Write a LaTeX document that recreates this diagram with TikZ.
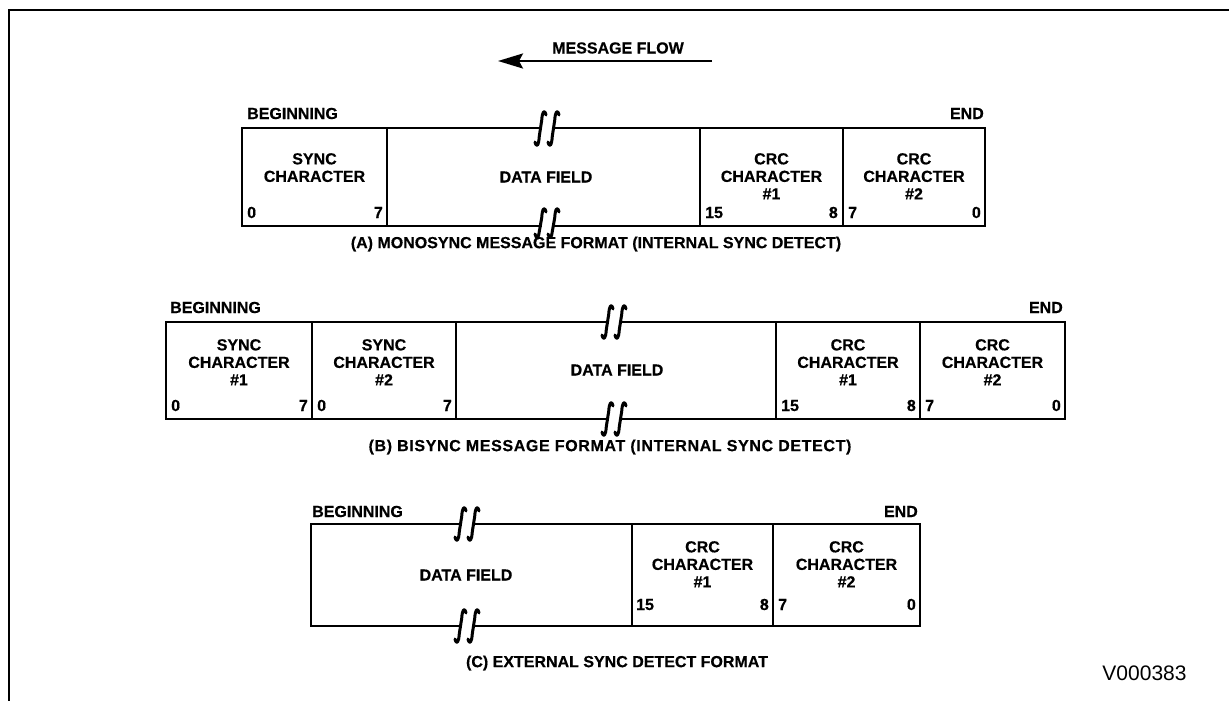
\documentclass[tikz,border=0pt]{standalone}
\usepackage{fontspec}
\setmainfont{Liberation Sans}[BoldFeatures={FakeBold=0.5}]
\usetikzlibrary{arrows.meta}
\tikzset{
  lbl/.style={font=\bfseries\fontsize{16}{17.5}\selectfont, inner sep=0pt, align=center, anchor=north},
  bit/.style={font=\bfseries\fontsize{16}{17}\selectfont, inner sep=0pt},
  captxt/.style={font=\bfseries\fontsize{16}{17}\selectfont, inner sep=0pt},
  edge/.style={line width=2.3pt},
  frame/.style={line width=2.8pt},
  brkstroke/.style={line width=3pt, line cap=round, line join=round},
}
% #1 x, #2 y, #3 extent above, #4 extent below
\newcommand\brkmark[4]{%
  \fill[white] (#1-5,#2-2.5) rectangle (#1+5,#2+2.5);
  \foreach \s in {-6.5,6.5}{%
    \draw[brkstroke]
      (#1+\s-5.5,#2+#4-4) .. controls (#1+\s-4,#2+#4+2) and (#1+\s-1.8,#2+#4) .. (#1+\s-1.2,#2+#4*0.45)
      -- (#1+\s+1.2,#2-#3*0.45)
      .. controls (#1+\s+1.8,#2-#3) and (#1+\s+4,#2-#3-2) .. (#1+\s+5.5,#2-#3+4);
  }%
}
\begin{document}
\begin{tikzpicture}[x=1pt,y=-1pt]
\useasboundingbox (0,0) rectangle (1229,701);
% frame
\draw[frame] (9,701) -- (9,10) -- (1229,10);

% message flow
\node[captxt] (mf) at (618,48) {MESSAGE FLOW};
\coordinate (mfs) at (712,61);
\coordinate (mfe) at (498,61);
\draw[line width=2.4pt, -{Stealth[length=25pt,width=15pt,inset=4pt]}] (mfs) -- (mfe);

% ---------- (A) ----------
\draw[edge] (242,128) rectangle (985,226);
\foreach \x in {387,700,843} \draw[edge] (\x,128) -- (\x,226);
\brkmark{547}{128}{17}{18}
\brkmark{547}{226}{18}{12}
\node[captxt, anchor=base west] (abeg) at (247,119) {BEGINNING};
\node[captxt, anchor=base east] (aend) at (984,119) {END};
\node[lbl] (async) at (314.5,153) {SYNC\\CHARACTER};
\node[lbl, anchor=center] (adata) at (546,177) {DATA FIELD};
\node[lbl] (acrc1) at (771.5,153) {CRC\\CHARACTER\\\#1};
\node[lbl] (acrc2) at (914,153) {CRC\\CHARACTER\\\#2};
\node[bit, anchor=base west] at (247,218) {0};
\node[bit, anchor=base east] at (383,218) {7};
\node[bit, anchor=base west] at (705,218) {15};
\node[bit, anchor=base east] at (838,218) {8};
\node[bit, anchor=base west] at (848,218) {7};
\node[bit, anchor=base east] at (981,218) {0};
\node[captxt] (acap) at (596,244) {(A) MONOSYNC MESSAGE FORMAT (INTERNAL SYNC DETECT)};

% ---------- (B) ----------
\draw[edge] (166,322) rectangle (1065,419);
\foreach \x in {312,456,776,920} \draw[edge] (\x,322) -- (\x,419);
\brkmark{614}{322}{17}{17}
\brkmark{614}{419}{17}{17}
\node[captxt, anchor=base west] (bbeg) at (170,313) {BEGINNING};
\node[captxt, anchor=base east] (bend) at (1063,313) {END};
\node[lbl] (bs1) at (239,339) {SYNC\\CHARACTER\\\#1};
\node[lbl] (bs2) at (384,339) {SYNC\\CHARACTER\\\#2};
\node[lbl, anchor=center] (bdata) at (617,370) {DATA FIELD};
\node[lbl] (bc1) at (848,339) {CRC\\CHARACTER\\\#1};
\node[lbl] (bc2) at (992.5,339) {CRC\\CHARACTER\\\#2};
\node[bit, anchor=base west] at (171,411) {0};
\node[bit, anchor=base east] at (308,411) {7};
\node[bit, anchor=base west] at (317,411) {0};
\node[bit, anchor=base east] at (452,411) {7};
\node[bit, anchor=base west] at (781,411) {15};
\node[bit, anchor=base east] at (916,411) {8};
\node[bit, anchor=base west] at (925,411) {7};
\node[bit, anchor=base east] at (1061,411) {0};
\node[captxt, font=\bfseries\fontsize{16}{17}\selectfont\addfontfeature{LetterSpace=4}] (bcap) at (610,447) {(B) BISYNC MESSAGE FORMAT (INTERNAL SYNC DETECT)};

% ---------- (C) ----------
\draw[edge] (311,524) rectangle (920,626);
\foreach \x in {632,773} \draw[edge] (\x,524) -- (\x,626);
\brkmark{467}{524}{17}{17}
\brkmark{467}{626}{17}{17}
\node[captxt, anchor=base west] (cbeg) at (312,517) {BEGINNING};
\node[captxt, anchor=base east] (cend) at (918,517) {END};
\node[lbl, anchor=center] (cdata) at (466,575) {DATA FIELD};
\node[lbl] (cc1) at (702.5,541) {CRC\\CHARACTER\\\#1};
\node[lbl] (cc2) at (846.5,541) {CRC\\CHARACTER\\\#2};
\node[bit, anchor=base west] at (636,610) {15};
\node[bit, anchor=base east] at (769,610) {8};
\node[bit, anchor=base west] at (778,610) {7};
\node[bit, anchor=base east] at (916,610) {0};
\node[captxt] (ccap) at (617,663) {(C) EXTERNAL SYNC DETECT FORMAT};

\node[font=\fontsize{21}{24}\selectfont, inner sep=0pt] (ref) at (1144.5,673) {V000383};
\end{tikzpicture}
\end{document}
